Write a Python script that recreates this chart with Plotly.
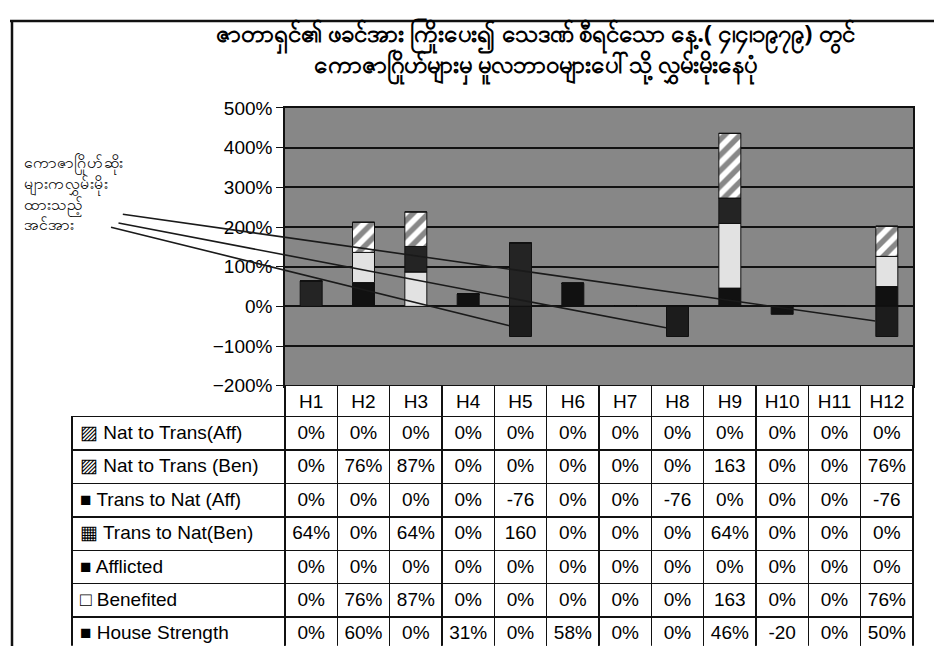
import plotly.graph_objects as go

# the page body puts the figure 8px in from the window corner
OFF = 8
W, H = 942 - OFF, 657 - OFF

categories = ["H1", "H2", "H3", "H4", "H5", "H6", "H7", "H8", "H9", "H10", "H11", "H12"]

house_strength = [0, 0.60, 0, 0.31, 0, 0.58, 0, 0, 0.46, -0.20, 0, 0.50]
benefited = [0, 0.76, 0.87, 0, 0, 0, 0, 0, 1.63, 0, 0, 0.76]
afflicted = [0, 0, 0, 0, 0, 0, 0, 0, 0, 0, 0, 0]
trans_nat_ben = [0.64, 0, 0.64, 0, 1.60, 0, 0, 0, 0.64, 0, 0, 0]
trans_nat_aff = [0, 0, 0, 0, -0.76, 0, 0, -0.76, 0, 0, 0, -0.76]
nat_trans_ben = [0, 0.76, 0.87, 0, 0, 0, 0, 0, 1.63, 0, 0, 0.76]
nat_trans_aff = [0, 0, 0, 0, 0, 0, 0, 0, 0, 0, 0, 0]

title_text = ("ဇာတာရှင်၏ ဖခင်အား ကြိုးပေး၍ သေဒဏ် စီရင်သော နေ့.( ၄၊၄၊၁၉၇၉) တွင်<br>"
              "ကောဇာဂြိုဟ်များမှ မူလဘာဝများပေါ်သို့ လွှမ်းမိုးနေပုံ")
side_note = "ကောဇာဂြိုဟ်ဆိုး<br>များကလွှမ်းမိုး<br>ထားသည့်<br>အင်အား"

BLACK = "#111111"
BG = "#878787"
FONT = "Liberation Sans, Arial, sans-serif"
MY_FONT = "Noto Sans, DejaVu Sans, sans-serif"


def px_x(x):
    return (x - OFF) / W


def px_y(y):
    return 1 - (y - OFF) / H


# stacking order (bottom first), legend key shown in the table
series = [
    ("House Strength", "■", house_strength, dict(color=BLACK)),
    ("Benefited", "□", benefited, dict(color="#e2e2e2")),
    ("Afflicted", "■", afflicted, dict(color="#2b2b2b")),
    ("Trans to Nat(Ben)", "▦", trans_nat_ben, dict(color="#242424")),
    ("Trans to Nat (Aff)", "■", trans_nat_aff, dict(color="#1c1c1c")),
    ("Nat to Trans (Ben)", "▨", nat_trans_ben,
     dict(color="white", pattern=dict(shape="/", fgcolor=BLACK, bgcolor="white", size=11, solidity=0.5))),
    ("Nat to Trans(Aff)", "▨", nat_trans_aff,
     dict(color="white", pattern=dict(shape="\\", fgcolor=BLACK, bgcolor="white", size=11, solidity=0.5))),
]


def cell_text(v):
    s = f"{round(v * 100)}%"
    return s[:-1] if len(s) > 3 else s


fig = go.Figure()
for name, key, vals, marker in series:
    fig.add_trace(go.Bar(x=categories, y=vals, name=name, width=0.42,
                         marker=dict(line=dict(color=BLACK, width=1), **marker),
                         showlegend=False))

# data table below the plot, rows listed top-down as in the chart
rows = series[::-1]
label_col = [f"{key} {name}" for name, key, vals, m in rows]
value_cols = [[cell_text(vals[i]) for name, key, vals, m in rows] for i in range(len(categories))]

x0_px, x1_px, lab_px = 285, 913, 72
top_px, axis_px = 101, 388
col_w = (x1_px - x0_px) / len(categories)
n = len(categories)
fig.add_trace(go.Table(
    domain=dict(x=[px_x(lab_px), px_x(x1_px)], y=[0, px_y(axis_px)]),
    columnwidth=[x0_px - lab_px] + [col_w] * n,
    header=dict(values=[""] + categories, height=31,
                fill_color=["rgba(0,0,0,0)"] + ["white"] * n,
                line=dict(color=BLACK, width=[0] + [1.5] * n),
                align="center", font=dict(family=FONT, size=19, color="black")),
    cells=dict(values=[label_col] + value_cols, height=33.4,
               fill_color="white",
               line=dict(color=BLACK, width=1.5),
               align=["left"] + ["center"] * n,
               font=dict(family=FONT, size=19, color="black")),
))

fig.update_layout(
    width=W, height=H,
    margin=dict(l=0, r=0, t=0, b=0),
    barmode="relative",
    plot_bgcolor=BG, paper_bgcolor="white",
    xaxis=dict(domain=[px_x(x0_px), px_x(x1_px)], range=[-0.5, 11.5],
               showticklabels=False, showgrid=False,
               showline=True, mirror=True, linecolor=BLACK, linewidth=1.5),
    yaxis=dict(domain=[px_y(axis_px), px_y(top_px)], range=[-2, 5], dtick=1, tickformat=".0%",
               showgrid=True, gridcolor=BLACK, gridwidth=1.5,
               zeroline=True, zerolinecolor=BLACK, zerolinewidth=1.5,
               showline=True, mirror=True, linecolor=BLACK, linewidth=1.5,
               ticks="outside", ticklen=7, tickcolor=BLACK,
               tickfont=dict(family=FONT, size=19, color="black")),
)

# title (two lines)
fig.add_annotation(text=title_text, xref="paper", yref="paper", x=px_x(535), y=px_y(42),
                   showarrow=False, font=dict(family=MY_FONT, size=24, color="black", weight="bold"),
                   xanchor="center", yanchor="middle", align="center")

# side note and callout lines
fig.add_annotation(text=side_note, xref="paper", yref="paper", x=px_x(22), y=px_y(143),
                   showarrow=False, align="left", xanchor="left", yanchor="top",
                   font=dict(family=MY_FONT, size=16, color="black"))
callouts = [(10.78, -0.37, -754, -107), (6.78, -0.54, -549, -105), (3.79, -0.49, -400, -99)]
for cx, cy, ax, ay in callouts:
    fig.add_annotation(x=cx, y=cy, xref="x", yref="y", text="", showarrow=True,
                       arrowhead=0, arrowwidth=1.6, arrowcolor="#1a1a1a",
                       ax=ax, ay=ay, axref="pixel", ayref="pixel")

# page frame of the scan
fig.add_shape(type="line", xref="paper", yref="paper", x0=px_x(10), x1=1, y0=px_y(11), y1=px_y(11),
              line=dict(color=BLACK, width=2.5))
fig.add_shape(type="line", xref="paper", yref="paper", x0=px_x(12), x1=px_x(12), y0=0, y1=px_y(11),
              line=dict(color=BLACK, width=2.5))

fig.write_html("out.html")
